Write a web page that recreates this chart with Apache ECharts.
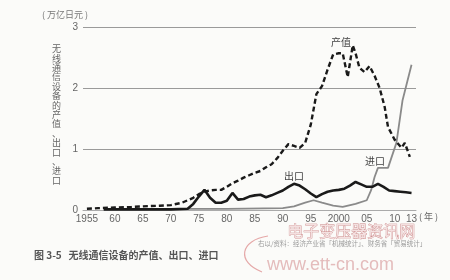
<!DOCTYPE html>
<html>
<head>
<meta charset="utf-8">
<script src="https://cdn.jsdelivr.net/npm/echarts@6/dist/echarts.min.js"></script>
<style>
html,body{margin:0;padding:0;background:#fbfbf9;}
#c{width:450px;height:280px;}
</style>
</head>
<body>
<div id="c"></div>
<script>
// ---- data (万亿日元) ----
var xTickYears = [1955,1960,1965,1970,1975,1980,1985,1990,1995,2000,2005,2010,2013];
var yTicks = [0,1,2,3];

var prodYears  = [1955,1957,1960,1963,1965,1968,1970,1972,1973,1974,1975,1976,1977,1978,1979,1980,1981,1982,1983,1984,1985,1986,1987,1988,1989,1990,1991,1992,1993,1994,1995,1996,1997,1998,1999,2000,2000.7,2001.6,2002.5,2003,2003.7,2004.6,2005.5,2006.4,2007.3,2008.2,2008.8,2010,2011.2,2011.8,2012.7];
var prodValues = [0.02,0.03,0.04,0.05,0.06,0.07,0.08,0.12,0.16,0.2,0.26,0.3,0.32,0.33,0.33,0.38,0.44,0.48,0.53,0.57,0.61,0.64,0.7,0.75,0.85,0.97,1.08,1.05,1.02,1.1,1.4,1.9,2.03,2.3,2.55,2.57,2.57,2.18,2.7,2.57,2.33,2.26,2.36,2.2,2.0,1.69,1.36,1.15,1.02,1.1,0.87];

var expYears  = [1958,1960,1965,1970,1973,1974,1975,1976,1977,1978,1979,1980,1981,1982,1983,1984,1985,1986,1987,1988,1989,1990,1991,1992,1993,1994,1995,1996,1997,1998,1999,2000,2001,2002,2003,2004,2005,2006,2007,2008,2009,2010,2011,2012,2013];
var expValues = [0.01,0.01,0.01,0.01,0.02,0.1,0.22,0.33,0.2,0.12,0.12,0.15,0.28,0.17,0.18,0.22,0.24,0.25,0.21,0.24,0.28,0.32,0.38,0.43,0.4,0.34,0.27,0.21,0.26,0.3,0.32,0.33,0.35,0.4,0.46,0.42,0.38,0.38,0.43,0.38,0.32,0.31,0.3,0.29,0.28];

var impYears  = [1965,1970,1980,1990,1992,1994,1995.5,1997,1999,2000.7,2003,2005,2005.8,2006.4,2007,2008.8,2010.3,2011.4,2013];
var impValues = [0.02,0.02,0.02,0.03,0.06,0.12,0.16,0.12,0.07,0.05,0.1,0.16,0.33,0.54,0.69,0.69,1.1,1.8,2.38];

function pairs(xs, ys){ return xs.map(function(x,i){return [x, ys[i]];}); }

var CJK = '"Noto Sans CJK SC","Noto Sans",sans-serif';
var yTitle = '无线通信设备的产值、出口、进口'.split('').join('\n');

var chart = echarts.init(document.getElementById('c'), null, {renderer:'canvas'});
chart.setOption({
  backgroundColor: '#fbfbf9',
  animation: false,
  grid: {left: 83, right: 34, top: 27, bottom: 70, containLabel: false},
  xAxis: {
    type: 'value', min: 1954.3, max: 2013.8,
    axisLine: {show: true, lineStyle: {color: '#aaa', width: 1}},
    axisTick: {show: false},
    splitLine: {show: false},
    axisLabel: {
      customValues: xTickYears,
      color: '#666', fontSize: 10, margin: 4,
      fontFamily: 'Liberation Sans, Arial, sans-serif',
      formatter: function(v){ v = Math.round(v); return (v===1955||v===2000) ? String(v) : String(v).slice(2); }
    }
  },
  yAxis: {
    type: 'value', min: 0, max: 3, interval: 1,
    axisLine: {show: false}, axisTick: {show: false},
    splitLine: {show: true, lineStyle: {color: '#9a9a9a', width: 1}},
    axisLabel: {color: '#666', fontSize: 10, margin: 5, fontFamily: 'Liberation Sans, Arial, sans-serif'}
  },
  series: [
    {type:'line', name:'产值', data: pairs(prodYears, prodValues), showSymbol:false, smooth:false,
     lineStyle:{color:'#1a1a1a', width:2.4, type:[5,3]}, z:3},
    {type:'line', name:'出口', data: pairs(expYears, expValues), showSymbol:false,
     lineStyle:{color:'#1a1a1a', width:2.6}, z:2},
    {type:'line', name:'进口', data: pairs(impYears, impValues), showSymbol:false,
     lineStyle:{color:'#8a8a8a', width:1.8}, z:1}
  ],
  graphic: [
    {type:'text', left: 42, top: 10, style:{text:'( 万亿日元 )', fill:'#777', font:'9px '+CJK}},
    {type:'text', left: 52, top: 44, style:{text:yTitle, fill:'#666', font:'9px '+CJK, lineHeight:9.4}},
    {type:'text', left: 331, top: 37, style:{text:'产值', fill:'#444', font:'10px '+CJK}},
    {type:'text', left: 284, top: 171, style:{text:'出口', fill:'#444', font:'10px '+CJK}},
    {type:'text', left: 365, top: 156, style:{text:'进口', fill:'#444', font:'10px '+CJK}},
    {type:'text', left: 419, top: 212, style:{text:'( 年 )', fill:'#666', font:'9px '+CJK}},
    {type:'text', left: 287, top: 223, style:{text:'电子变压器资讯网', fill:'#f4e0e0', stroke:'#c98585', lineWidth:0.7, font:'16px '+CJK}},
    {type:'text', left: 258, top: 240, style:{text:'右以/资料：经济产业省「机械统计」、财务省「贸易统计」', fill:'#999', font:'6.5px '+CJK}},
    {type:'text', left: 267, top: 256, style:{text:'www.ett-cn.com', fill:'#e4bcbc', font:'18px "Liberation Sans", Arial, sans-serif'}},
    {type:'bezierCurve', shape:{x1:268, y1:236, cpx1:240, cpy1:240, cpx2:236, cpy2:262, x2:262, y2:272}, style:{stroke:'#e5a8a8', lineWidth:1.2, fill:null}},
    {type:'text', left: 34, top: 250, style:{text:'图 3-5   无线通信设备的产值、出口、进口', fill:'#555', font:'bold 10px '+CJK}}
  ]
});
</script>
</body>
</html>
